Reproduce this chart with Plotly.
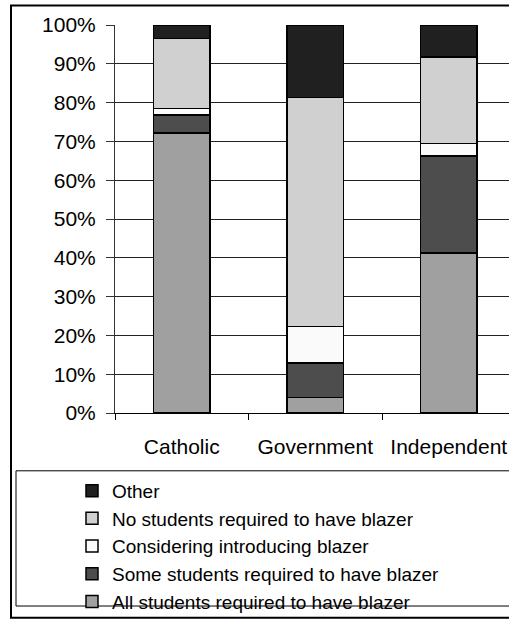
import plotly.graph_objects as go

categories = ["Catholic", "Government", "Independent"]
series_names = [
    "All students required to have blazer",
    "Some students required to have blazer",
    "Considering introducing blazer",
    "No students required to have blazer",
    "Other",
]
all_students = [72.2, 4.0, 41.2]
some_students = [4.6, 8.9, 25.0]
considering = [1.7, 9.4, 3.3]
no_students = [18.0, 59.0, 22.3]
other = [3.5, 18.7, 8.2]
series_values = [all_students, some_students, considering, no_students, other]
series_colors = ["#a0a0a0", "#4d4d4d", "#fafafa", "#d0d0d0", "#202020"]
tick_vals = [i / 10 for i in range(11)]
tick_text = [f"{i * 10}%" for i in range(11)]

W, H = 509, 621
L, T = 115, 25
BOTTOM = 421
B = H - BOTTOM
PW, PH = W - L, BOTTOM - T
CAT_PX = 133.5  # pixel width of one category slot


def px(x):
    """page pixel x -> paper coordinate"""
    return (x - L) / PW


def py(y):
    """page pixel y -> paper coordinate"""
    return (BOTTOM - y) / PH


FONT = "Liberation Sans, Arial, sans-serif"

fig = go.Figure()
for name, vals, col in zip(series_names, series_values, series_colors):
    fig.add_trace(go.Bar(
        x=categories, y=[v / 100 for v in vals], name=name,
        marker=dict(color=col, line=dict(color="#000000", width=1.5)),
        width=0.42,
    ))

fig.update_layout(
    width=W, height=H,
    margin=dict(l=L, r=0, t=T, b=B, pad=0),
    barmode="stack",
    paper_bgcolor="white", plot_bgcolor="white",
    font=dict(family=FONT, size=19, color="#000000"),
    showlegend=True,
    legend=dict(
        traceorder="reversed", x=px(72), y=py(481), xanchor="left", yanchor="top",
        bgcolor="rgba(0,0,0,0)", borderwidth=0,
        font=dict(family=FONT, size=19, color="#000000"),
        itemwidth=30, tracegroupgap=0,
    ),
    xaxis=dict(
        range=[-0.5, -0.5 + PW / CAT_PX], showline=True, linecolor="#000000", linewidth=1,
        ticks="outside", tickson="boundaries", ticklen=6, tickcolor="#000000",
        showgrid=False, fixedrange=True, zeroline=False, ticklabelstandoff=15,
        tickfont=dict(family=FONT, size=21, color="#000000"),
    ),
    yaxis=dict(
        range=[0, 1], tickvals=tick_vals, ticktext=tick_text,
        showline=True, linecolor="#333333", linewidth=1,
        ticks="outside", ticklen=8, tickcolor="#333333", ticklabelstandoff=6,
        showgrid=True, gridcolor="#222222", gridwidth=1, zeroline=False,
        fixedrange=True,
        tickfont=dict(family=FONT, size=21, color="#000000"),
    ),
    shapes=[
        dict(type="rect", xref="paper", yref="paper", x0=px(11), x1=px(530), y0=py(5), y1=py(630),
             line=dict(color="#000000", width=2), layer="above"),
        dict(type="rect", xref="paper", yref="paper", x0=px(16), x1=px(530), y0=py(480), y1=py(618),
             line=dict(color="#000000", width=1), layer="above"),
    ],
)

fig.write_html(
    "out.html",
    config={"displayModeBar": False},
    post_script="document.body.style.margin='0px';document.body.style.overflow='hidden';",
)
